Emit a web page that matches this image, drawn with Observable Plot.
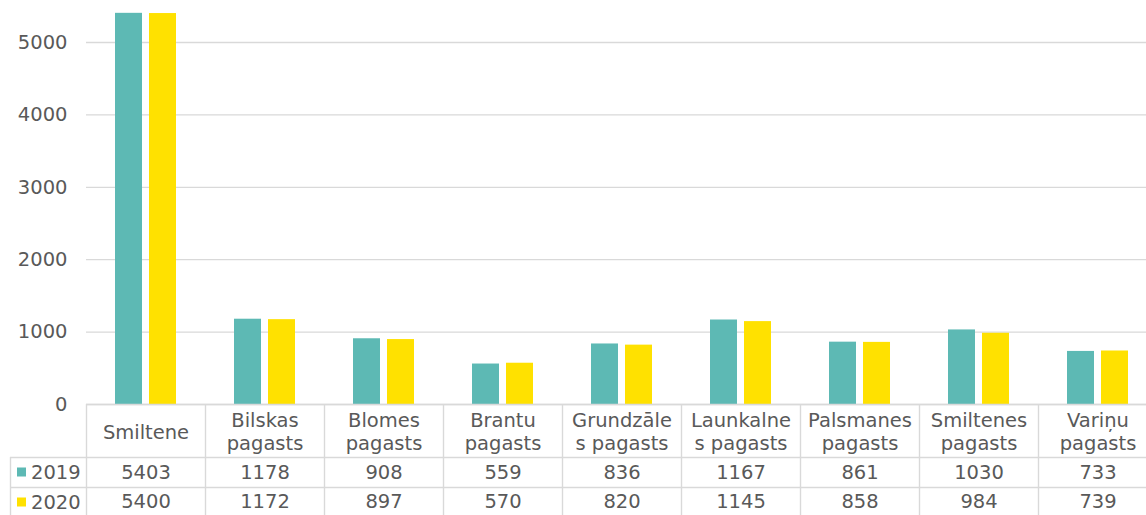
<!DOCTYPE html>
<html><head><meta charset="utf-8">
<script src="https://cdn.jsdelivr.net/npm/d3@7"></script>
<script src="https://cdn.jsdelivr.net/npm/@observablehq/plot@0.6"></script>
<style>html,body{margin:0;padding:0;background:#fff;overflow:hidden} svg{display:block}</style>
</head><body><div id="chart"></div>
<script>
const categories = ["Smiltene","Bilskas pagasts","Blomes pagasts","Brantu pagasts","Grundzāles pagasts","Launkalnes pagasts","Palsmanes pagasts","Smiltenes pagasts","Variņu pagasts"];
const categoryLabels = ["Smiltene","Bilskas\npagasts","Blomes\npagasts","Brantu\npagasts","Grundzāle\ns pagasts","Launkalne\ns pagasts","Palsmanes\npagasts","Smiltenes\npagasts","Variņu\npagasts"];
const years = ["2019","2020"];
const values2019 = [5403,1178,908,559,836,1167,861,1030,733];
const values2020 = [5400,1172,897,570,820,1145,858,984,739];
const yTicks = [0,1000,2000,3000,4000,5000];
const colors = ["#5DB9B4","#FFE100"];

const rows = categories.flatMap((c,i)=>[
  {category:c, year:"2019", value: values2019[i]},
  {category:c, year:"2020", value: values2020[i]}
]);
const labels = categories.map((c,i)=>({category:c, label: categoryLabels[i]}));

const W=1146, H=515, mL=86, mT=42, mB=111, colW=119;
const font = "'DejaVu Sans', Verdana, sans-serif";
const fs = 19.5;
const textColor = "#595959";
const lineColor = "#d9d9d9";

const chart = Plot.plot({
  width:W, height:H,
  marginLeft:mL, marginRight: W - (mL + colW*categories.length), marginTop:mT, marginBottom:mB,
  style:{fontFamily:font, fontSize:fs+"px", color:textColor, background:"#fff"},
  fx:{domain:categories, padding:0, axis:null},
  x:{domain:years, paddingInner:0.2, paddingOuter:0.85, axis:null},
  y:{domain:[0,5000], ticks:yTicks, tickSize:0, tickPadding:19, label:null, tickFormat:d=>String(d)},
  color:{domain:years, range:colors},
  marks:[
    Plot.ruleY(yTicks, {stroke:lineColor, strokeWidth:1.3}),
    Plot.barY(rows, {fx:"category", x:"year", y:"value", fill:"year"}),
    Plot.text(labels, {fx:"category", text:"label", frameAnchor:"bottom", dy:27, lineAnchor:"middle", lineHeight:1.18, fill:textColor, fontSize:fs}),
    Plot.text(rows.filter(d=>d.year==="2019"), {fx:"category", text:d=>String(d.value), frameAnchor:"bottom", dy:68, lineAnchor:"middle", fill:textColor, fontSize:fs}),
    Plot.text(rows.filter(d=>d.year==="2020"), {fx:"category", text:d=>String(d.value), frameAnchor:"bottom", dy:97, lineAnchor:"middle", fill:textColor, fontSize:fs})
  ]
});

// data table grid and row headers
const svg = d3.select(chart);
const fx = d3.scaleBand().domain(categories).range([mL, mL + colW*categories.length]).padding(0);
const y0 = H - mB;           // table top (value 0 baseline)
const rowTops = [y0 + 53, y0 + 83];
const g = svg.append("g").attr("stroke", lineColor).attr("stroke-width", 1.4).attr("fill", "none");
g.append("line").attr("x1", mL).attr("x2", W).attr("y1", y0 + 0.5).attr("y2", y0 + 0.5);
rowTops.forEach(t => g.append("line").attr("x1", 10).attr("x2", W).attr("y1", t + 0.5).attr("y2", t + 0.5));
const edges = categories.map(c => fx(c)).concat([fx.range()[1]]);
edges.forEach(x => g.append("line").attr("x1", x + 0.5).attr("x2", x + 0.5).attr("y1", y0).attr("y2", H));
g.append("line").attr("x1", 10.5).attr("x2", 10.5).attr("y1", rowTops[0]).attr("y2", H);

years.forEach((yr, i) => {
  const cy = rowTops[i] + 15;
  svg.append("rect").attr("x", 17).attr("y", cy - 4.5).attr("width", 9).attr("height", 9).attr("fill", colors[i]);
  svg.append("text").attr("x", 31).attr("y", cy).attr("dy", "0.36em").attr("text-anchor", "start")
    .attr("fill", textColor).attr("font-family", font).attr("font-size", fs).text(yr);
});

document.getElementById("chart").append(chart);
</script>
</body></html>
